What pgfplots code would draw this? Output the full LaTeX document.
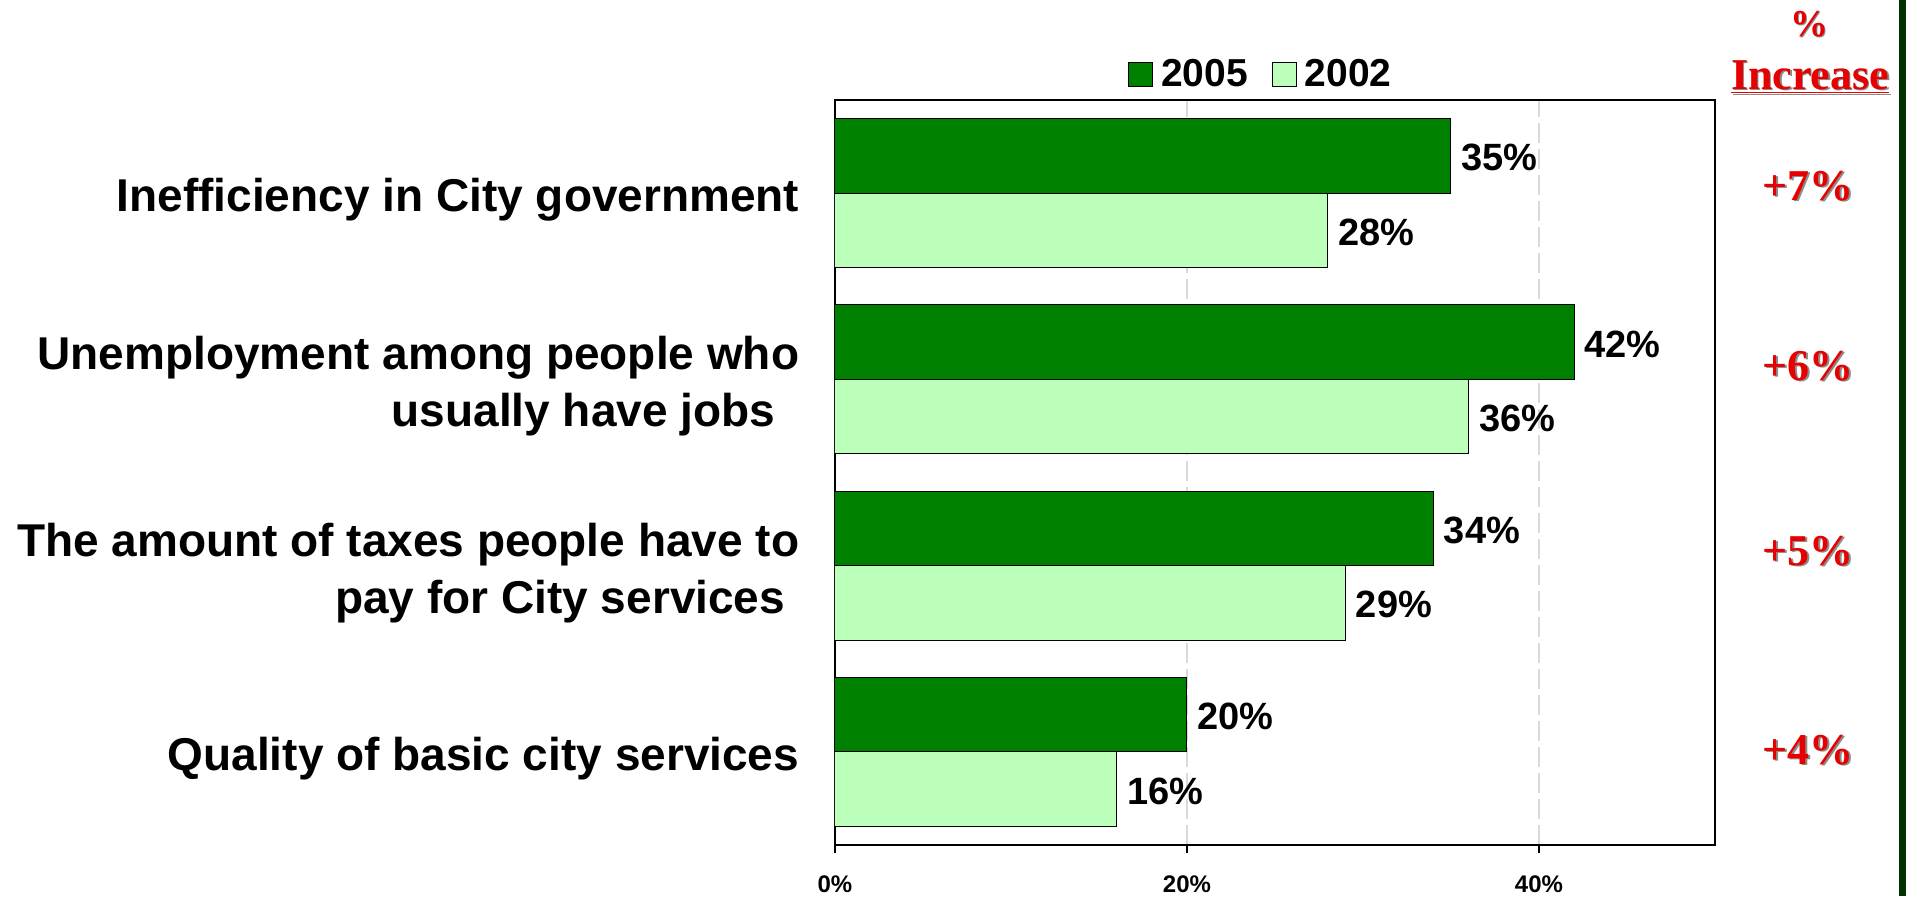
\documentclass[border=0pt]{standalone}
\usepackage{fontspec}
\setmainfont{Liberation Sans}
\newfontfamily\redserif{Liberation Serif}
\usepackage{pgfplots}
\pgfplotsset{compat=1.18}
\definecolor{dkgreen}{RGB}{0,128,0}
\definecolor{ltgreen}{RGB}{187,255,187}
\definecolor{redlab}{RGB}{232,0,0}
\definecolor{strip}{RGB}{0,51,0}
\newcommand{\catfont}{\bfseries\fontsize{23}{28.5}\selectfont}
\newcommand{\valfont}{\bfseries\fontsize{19}{22}\selectfont}
\newcommand{\legfont}{\bfseries\fontsize{19.5}{22}\selectfont}
\newcommand{\redfont}{\redserif\bfseries\fontsize{22}{26}\selectfont}
\newcommand{\shadowlabel}[3]{%
  \node[text=black!45, font=\redfont, inner sep=0pt] at ([xshift=0.8pt,yshift=-0.8pt]#1,#2) {#3};
  \node[text=redlab, font=\redfont, inner sep=0pt] at (#1,#2) {#3};}
\begin{document}
\begin{tikzpicture}
\useasboundingbox (0,0) rectangle (953pt,448pt);
\fill[white] (0,0) rectangle (953pt,448pt);
\fill[strip] (949.5pt,0) rectangle (953pt,448pt);
\begin{axis}[
  at={(417.5pt,25.5pt)}, anchor=south west,
  scale only axis, width=440pt, height=372.5pt,
  xbar, bar width=0.4,
  xmin=0, xmax=50, ymin=-0.5, ymax=3.5,
  axis line style={black, line width=1pt},
  /pgf/number format/assume math mode=true,
  xtick={0,20,40},
  xticklabel={\pgfmathprintnumber{\tick}\%},
  xtick pos=bottom, tick align=outside,
  x tick style={black, line width=0.8pt},
  major tick length=4pt,
  xticklabel style={font=\bfseries\fontsize{12}{14}\selectfont, inner sep=0pt, yshift=-11pt},
  xmajorgrids,
  major x grid style={black!15, line width=0.8pt, dash pattern=on 10pt off 3pt},
  ytick={0,1,2,3},
  y tick style={draw=none},
  yticklabels={
    Quality of basic city services,
    {The amount of taxes people have to\\pay for City services\hspace*{7pt}},
    {Unemployment among people who\\usually have jobs\hspace*{12pt}},
    Inefficiency in City government},
  yticklabel style={font=\catfont, align=right, inner sep=0pt, xshift=-13.7pt, yshift=-3.5pt},
  point meta=x,
  nodes near coords={\pgfmathprintnumber{\pgfplotspointmeta}\%},
  nodes near coords style={font=\valfont, anchor=west, inner sep=0pt, xshift=5pt, yshift=-1pt},
  legend style={draw=none, fill=none, legend columns=2, at={(0.485,1)}, anchor=south, yshift=1pt,
    font=\legfont, /tikz/every even column/.append style={column sep=10pt},
    /tikz/every odd column/.append style={column sep=2pt}},
]
\addplot[fill=dkgreen, draw=black, line width=0.5pt, bar shift=0.2,
  legend image code/.code={\draw[fill=dkgreen, draw=black, line width=0.5pt] (0pt,-6pt) rectangle (12pt,6pt);}]
  coordinates {(20,0) (34,1) (42,2) (35,3)};
\addlegendentry{2005}
\addplot[fill=ltgreen, draw=black, line width=0.5pt, bar shift=-0.2,
  legend image code/.code={\draw[fill=ltgreen, draw=black, line width=0.5pt] (0pt,-6pt) rectangle (12pt,6pt);}]
  coordinates {(16,0) (29,1) (36,2) (28,3)};
\addlegendentry{2002}
\end{axis}
\node[text=black!45, font=\redserif\bfseries\fontsize{19}{22}\selectfont, inner sep=0pt] at (905.3pt,435.2pt) {\%};
\node[text=redlab, font=\redserif\bfseries\fontsize{19}{22}\selectfont, inner sep=0pt] at (904.5pt,436pt) {\%};
\node[text=black!45, font=\redfont, inner sep=0pt] at (905.8pt,408.7pt) {\underline{Increase}};
\node[text=redlab, font=\redfont, inner sep=0pt] at (905pt,409.5pt) {\underline{Increase}};
\shadowlabel{904pt}{355pt}{+7\%}
\shadowlabel{904pt}{265pt}{+6\%}
\shadowlabel{904pt}{172.5pt}{+5\%}
\shadowlabel{904pt}{73pt}{+4\%}
\end{tikzpicture}
\end{document}
